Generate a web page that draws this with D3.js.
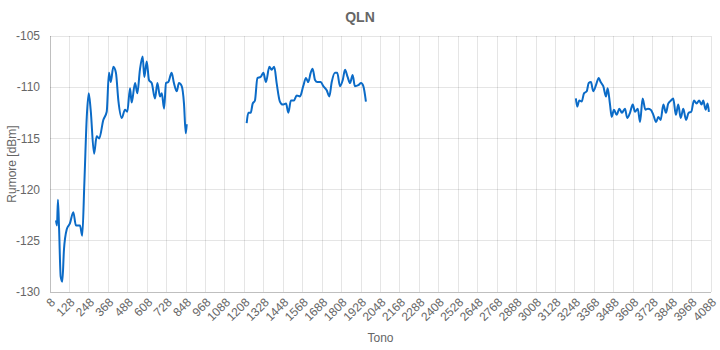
<!DOCTYPE html>
<html>
<head>
<meta charset="utf-8">
<script src="https://cdn.jsdelivr.net/npm/d3@7/dist/d3.min.js"></script>
<style>
  html, body { margin: 0; padding: 0; background: #fff; }
  svg { display: block; font-family: "Liberation Sans", Arial, Helvetica, sans-serif; }
</style>
</head>
<body>
<svg id="chart" width="720" height="350"></svg>
<script>
// Tick labels on the x axis (tones)
const xTicks = d3.range(8, 4089, 120);
const yTicks = [-130, -125, -120, -115, -110, -105];

// Segment 1
const seg1Tones = [45,51,57,64,74,84,94,111,131,152,168,193,207,220,235,247,259,280,296,312,337,358,372,383,399,415,430,451,471,485,502,512,533,547,563,580,590,605,619,636,656,671,687,698,712,724,738,759,773,790,804,821,835,846,852];
const seg1Values = [-123.0,-123.5,-121.0,-123.8,-128.5,-129.0,-125.9,-123.9,-123.3,-122.2,-123.5,-123.5,-124.5,-119.4,-112.9,-110.6,-112.2,-116.5,-114.8,-115.0,-113.2,-112.4,-108.6,-109.5,-108.0,-108.6,-111.3,-113.0,-112.2,-112.4,-110.1,-111.5,-109.6,-110.6,-108.3,-107.0,-109.0,-107.5,-109.3,-109.6,-111.1,-109.6,-110.9,-110.6,-112.1,-109.6,-109.5,-108.6,-109.6,-110.4,-109.6,-109.9,-111.6,-114.5,-113.6];

// Segment 2
const seg2Tones = [1222,1232,1247,1259,1273,1288,1308,1325,1341,1362,1376,1392,1407,1427,1444,1465,1479,1495,1514,1531,1551,1571,1588,1602,1617,1629,1644,1658,1679,1695,1716,1732,1747,1767,1781,1798,1815,1829,1845,1860,1876,1890,1911,1928,1942,1958];
const seg2Values = [-113.5,-112.5,-112.5,-111.6,-111.3,-109.1,-109.0,-108.6,-109.5,-108.0,-108.3,-108.0,-109.6,-111.4,-111.7,-111.6,-112.5,-111.3,-111.3,-110.8,-110.9,-109.9,-109.1,-109.5,-108.6,-108.2,-109.3,-109.5,-109.5,-109.9,-110.3,-110.9,-109.5,-108.6,-108.6,-109.9,-109.3,-108.3,-109.0,-109.6,-108.8,-109.9,-109.8,-109.6,-109.9,-111.4];

// Segment 3
const seg3Tones = [3254,3262,3275,3290,3304,3321,3333,3347,3361,3378,3395,3407,3423,3440,3450,3464,3475,3489,3506,3522,3538,3557,3571,3588,3605,3619,3636,3650,3666,3683,3699,3716,3732,3749,3763,3777,3794,3810,3824,3841,3855,3871,3886,3901,3917,3934,3950,3966,3983,3999,4015,4030,4040,4055,4067,4075];
const seg3Values = [-111.1,-111.9,-111.3,-111.4,-110.6,-110.4,-109.6,-109.5,-110.4,-109.8,-109.1,-109.5,-109.9,-110.9,-110.1,-111.6,-112.9,-112.2,-112.7,-112.1,-112.5,-112.1,-113.0,-112.5,-111.7,-112.4,-112.1,-113.4,-111.1,-112.2,-112.1,-112.2,-112.7,-113.4,-112.9,-113.2,-111.7,-112.5,-111.6,-111.3,-111.1,-112.7,-111.7,-113.0,-112.1,-113.2,-112.5,-112.4,-111.3,-111.6,-111.3,-111.7,-111.3,-112.2,-111.6,-112.4];

const segments = [
  seg1Tones.map((t, i) => ({ t, v: seg1Values[i] })),
  seg2Tones.map((t, i) => ({ t, v: seg2Values[i] })),
  seg3Tones.map((t, i) => ({ t, v: seg3Values[i] }))
];

const svg = d3.select("#chart");
const mLeft = 50, mRight = 711, mTop = 36, mBottom = 292;

const x = d3.scaleLinear().domain([8, 4088]).range([mLeft, mRight]);
const y = d3.scaleLinear().domain([-130, -105]).range([mBottom, mTop]);

const grid = svg.append("g");
grid.selectAll("line.v").data(xTicks).join("line")
  .attr("x1", d => x(d)).attr("x2", d => x(d))
  .attr("y1", mTop).attr("y2", mBottom)
  .attr("stroke", d => d === 8 ? "rgba(0,0,0,0.25)" : "rgba(0,0,0,0.1)")
  .attr("stroke-width", 1)
  .attr("shape-rendering", "crispEdges");
grid.selectAll("line.h").data(yTicks).join("line")
  .attr("x1", mLeft).attr("x2", mRight)
  .attr("y1", d => y(d)).attr("y2", d => y(d))
  .attr("stroke", d => d === -130 ? "rgba(0,0,0,0.25)" : "rgba(0,0,0,0.1)")
  .attr("stroke-width", 1)
  .attr("shape-rendering", "crispEdges");

// Y tick labels
svg.append("g").selectAll("text").data(yTicks).join("text")
  .attr("x", mLeft - 10).attr("y", d => y(d))
  .attr("dy", "0.35em")
  .attr("text-anchor", "end")
  .attr("font-size", 12).attr("fill", "#666")
  .text(d => d);

// X tick labels rotated
svg.append("g").selectAll("text").data(xTicks).join("text")
  .attr("transform", d => `translate(${x(d) + 3},${mBottom + 8}) rotate(-45)`)
  .attr("dy", "0.35em")
  .attr("text-anchor", "end")
  .attr("font-size", 12).attr("fill", "#666")
  .text(d => d);

// Axis titles
svg.append("text")
  .attr("x", (mLeft + mRight) / 2).attr("y", 342)
  .attr("text-anchor", "middle")
  .attr("font-size", 12).attr("fill", "#666")
  .text("Tono");
svg.append("text")
  .attr("transform", `translate(16,${(mTop + mBottom) / 2}) rotate(-90)`)
  .attr("text-anchor", "middle")
  .attr("font-size", 12).attr("fill", "#666")
  .text("Rumore [dBm]");

// Title
svg.append("text")
  .attr("x", 360).attr("y", 22)
  .attr("text-anchor", "middle")
  .attr("font-size", 14).attr("font-weight", "bold").attr("fill", "#666")
  .text("QLN");

// Lines
const line = d3.line().x(d => x(d.t)).y(d => y(d.v)).curve(d3.curveMonotoneX);
svg.append("g").selectAll("path").data(segments).join("path")
  .attr("d", line)
  .attr("fill", "none")
  .attr("stroke", "#0b6bc7")
  .attr("stroke-width", 2)
  .attr("stroke-linejoin", "round");
</script>
</body>
</html>
